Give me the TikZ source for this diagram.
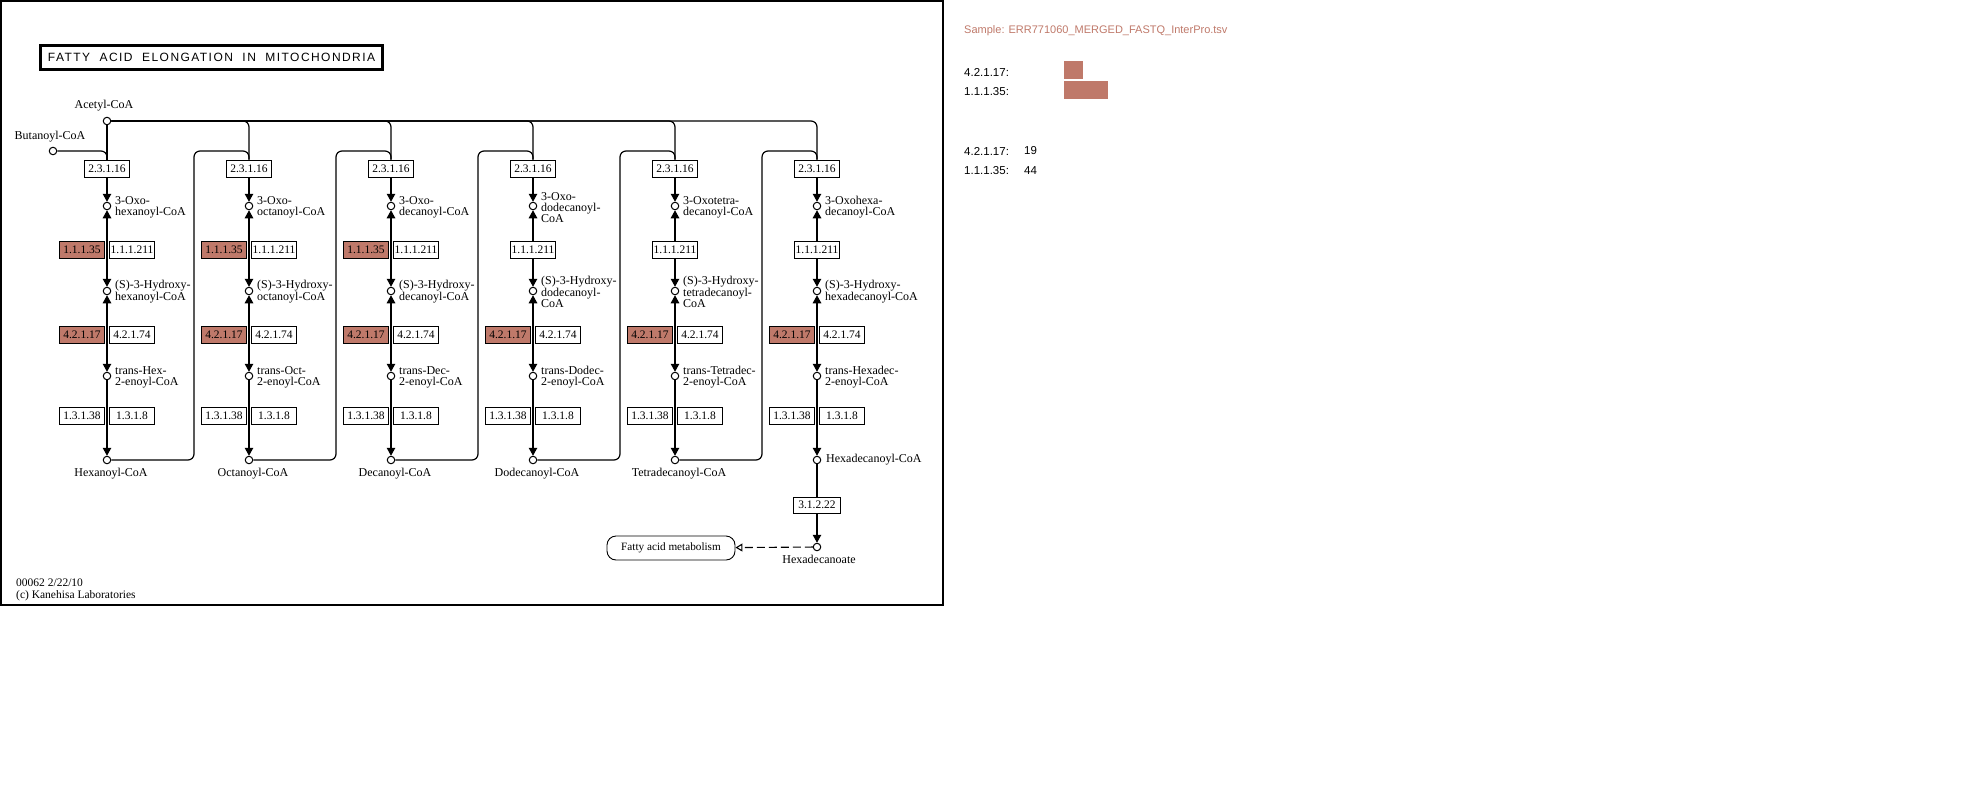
\documentclass[tikz,border=0pt]{standalone}
\usepackage{fontspec}
\setmainfont{Liberation Serif}
\newfontfamily\sidefont{Liberation Sans}
\newfontfamily\titlefont[LetterSpace=12,WordSpace=2]{Liberation Sans}
\usetikzlibrary{arrows.meta,calc}
\definecolor{hit}{RGB}{191,121,106}
\pgfdeclarelayer{bg}
\pgfsetlayers{bg,main}
\tikzset{
  cpd/.style={circle,draw,fill=white,line width=1pt,minimum size=7.5pt,inner sep=0pt},
  ec/.style={draw,fill=white,line width=0.9pt,minimum width=45pt,minimum height=17pt,
    inner sep=0pt,font=\fontsize{11.5}{12}\selectfont},
  echit/.style={ec,fill=hit},
  lbl/.style={font=\fontsize{12}{10.8}\selectfont,align=left,inner sep=0pt},
  rxn/.style={line width=1.2pt},
  tip/.style={arrows={-Triangle[length=8pt,width=8.5pt]}},
  dbl/.style={arrows={Triangle[length=8pt,width=8.5pt]-Triangle[length=8pt,width=8.5pt]}},
  link/.style={line width=1.2pt,rounded corners=6pt},
  side/.style={font=\sidefont\fontsize{11.5}{12}\selectfont,anchor=west,inner sep=0pt}
}
\begin{document}
\begin{tikzpicture}[x=1pt,y=-1pt]
\useasboundingbox (0,0) rectangle (1988,806);

% map frame and title
\draw[line width=2pt] (1,1) rectangle (943,605);
\node[draw,line width=3pt,minimum width=342pt,minimum height=24pt,inner sep=0pt] (title)
  at (211.5,57.5) {\titlefont\fontsize{12}{12}\selectfont FATTY ACID ELONGATION IN MITOCHONDRIA};

% starting compounds
\node[cpd] (acetyl) at (107,121) {};
\node[lbl] (acetylL) at (104,106) {Acetyl-CoA};
\node[cpd] (butanoyl) at (53,151) {};
\node[lbl] (butanoylL) at (50,137) {Butanoyl-CoA};

% one elongation cycle per column
\foreach \i/\x/\oxo/\hyd/\tr/\bot/\hasA in {
  1/107/{3-Oxo-\\hexanoyl-CoA}/{(S)-3-Hydroxy-\\hexanoyl-CoA}/{trans-Hex-\\2-enoyl-CoA}/{Hexanoyl-CoA}/1,
  2/249/{3-Oxo-\\octanoyl-CoA}/{(S)-3-Hydroxy-\\octanoyl-CoA}/{trans-Oct-\\2-enoyl-CoA}/{Octanoyl-CoA}/1,
  3/391/{3-Oxo-\\decanoyl-CoA}/{(S)-3-Hydroxy-\\decanoyl-CoA}/{trans-Dec-\\2-enoyl-CoA}/{Decanoyl-CoA}/1,
  4/533/{3-Oxo-\\dodecanoyl-\\CoA}/{(S)-3-Hydroxy-\\dodecanoyl-\\CoA}/{trans-Dodec-\\2-enoyl-CoA}/{Dodecanoyl-CoA}/0,
  5/675/{3-Oxotetra-\\decanoyl-CoA}/{(S)-3-Hydroxy-\\tetradecanoyl-\\CoA}/{trans-Tetradec-\\2-enoyl-CoA}/{Tetradecanoyl-CoA}/0,
  6/817/{3-Oxohexa-\\decanoyl-CoA}/{(S)-3-Hydroxy-\\hexadecanoyl-CoA}/{trans-Hexadec-\\2-enoyl-CoA}/{Hexadecanoyl-CoA}/0}
{
  \node[ec] (syn\i) at (\x,168.5) {2.3.1.16};
  \node[cpd] (oxo\i) at (\x,206) {};
  \node[lbl,anchor=west] (oxoL\i) at (\x+8,207.5) {\oxo};
  \ifnum\hasA=1
    \node[echit] (hadA\i) at (\x-25,250) {1.1.1.35};
    \node[ec] (hadB\i) at (\x+25,250) {1.1.1.211};
  \else
    \node[ec] (hadB\i) at (\x,250) {1.1.1.211};
  \fi
  \node[cpd] (hyd\i) at (\x,291) {};
  \node[lbl,anchor=west] (hydL\i) at (\x+8,292) {\hyd};
  \node[echit] (echA\i) at (\x-25,335) {4.2.1.17};
  \node[ec] (echB\i) at (\x+25,335) {4.2.1.74};
  \node[cpd] (tr\i) at (\x,376) {};
  \node[lbl,anchor=west] (trL\i) at (\x+8,377) {\tr};
  \node[ec] (redA\i) at (\x-25,416) {1.3.1.38};
  \node[ec] (redB\i) at (\x+25,416) {1.3.1.8};
  \node[cpd] (acyl\i) at (\x,460) {};
  \ifnum\i<6
    \node[lbl] (acylL\i) at (\x+4,474) {\bot};
    \coordinate (lp\i) at (\x+87,151);
  \else
    \node[lbl,anchor=west] (acylL\i) at (\x+9,460) {\bot};
  \fi
  \begin{pgfonlayer}{bg}
    \draw[rxn,tip] (syn\i) -- (oxo\i);
    \draw[rxn,dbl] (oxo\i) -- (hyd\i);
    \draw[rxn,dbl] (hyd\i) -- (tr\i);
    \draw[rxn,tip] (tr\i) -- (acyl\i);
  \end{pgfonlayer}
}

% thioesterase step and exit to fatty acid metabolism
\node[ec,minimum width=47pt,minimum height=16pt] (tes) at (817,505) {3.1.2.22};
\node[cpd] (hexadecanoate) at (817,547) {};
\node[lbl] (hexadecanoateL) at (819,559.5) {Hexadecanoate};
\node[draw,line width=0.9pt,rounded corners=9pt,minimum width=128pt,minimum height=24pt,
  inner sep=0pt,font=\fontsize{11.2}{12}\selectfont] (fam) at (671,548) {Fatty acid metabolism};

\begin{pgfonlayer}{bg}
  % acetyl-CoA feeds every condensation
  \draw[rxn] (acetyl) -- (syn1);
  \foreach \k in {2,...,6} \draw[link] (acetyl.east) -| (syn\k.north);
  \draw[link] (butanoyl.east) -| (syn1.north);
  % each acyl-CoA re-enters the next cycle
  \foreach \i [evaluate=\i as \j using int(\i+1)] in {1,...,5}
    \draw[link] (acyl\i.east) -| (lp\i) -| (syn\j.north);
  \draw[rxn] (acyl6) -- (tes);
  \draw[rxn,tip] (tes) -- (hexadecanoate);
  \draw[line width=1.1pt,dash pattern=on 8pt off 4pt,
    arrows={-Triangle[open,length=7pt,width=8pt]}] (hexadecanoate) -- (fam);
\end{pgfonlayer}

% footer
\node[anchor=west,align=left,inner sep=0pt,font=\fontsize{11.5}{11.5}\selectfont] (footer)
  at (16,590) {00062 2/22/10\\(c) Kanehisa Laboratories};

% sample summary
\node[side,text=hit,font=\sidefont\fontsize{11}{12}\selectfont] (sample) at (964,31)
  {Sample: ERR771060\_MERGED\_FASTQ\_InterPro.tsv};
\node[side] (barL1) at (964,72) {4.2.1.17:};
\node[side] (barL2) at (964,92) {1.1.1.35:};
\fill[hit] (1064,61) rectangle (1083,79);
\fill[hit] (1064,81) rectangle (1108,99);
\node[side] (cntL1) at (964,151) {4.2.1.17:};
\node[side] (cntV1) at (1024,151) {19};
\node[side] (cntL2) at (964,171) {1.1.1.35:};
\node[side] (cntV2) at (1024,171) {44};
\end{tikzpicture}
\end{document}
